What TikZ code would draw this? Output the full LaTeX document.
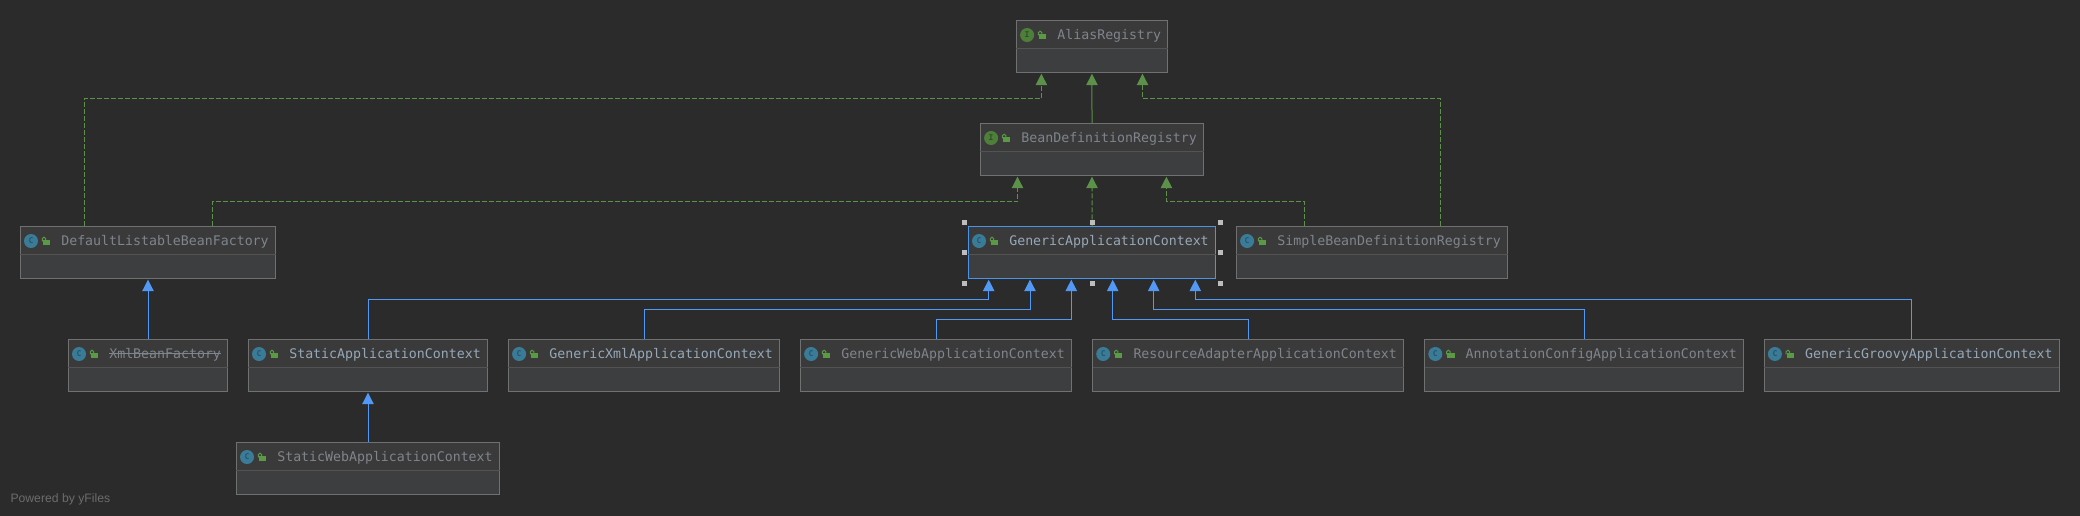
\documentclass[tikz,border=0pt]{standalone}
\usepackage{fontspec}
\setmainfont{Liberation Sans}
\setmonofont{DejaVu Sans Mono}
\usetikzlibrary{arrows.meta}
\definecolor{canvas}{HTML}{2B2B2B}
\definecolor{bodyfill}{HTML}{3C3E40}
\definecolor{headfill}{HTML}{3A3A3B}
\definecolor{edgegray}{HTML}{6F7070}
\definecolor{dividergray}{HTML}{535353}
\definecolor{selblue}{HTML}{4A94E8}
\definecolor{arrowblue}{HTML}{5199F5}
\definecolor{arrowgreen}{HTML}{5B9148}
\definecolor{lockgreen}{HTML}{5A9A44}
\definecolor{classteal}{HTML}{3A7C98}
\definecolor{classdark}{HTML}{28556A}
\definecolor{ifacegreen}{HTML}{4E7F3A}
\definecolor{ifacedark}{HTML}{2F4F24}
\definecolor{dimtext}{HTML}{7F858B}
\definecolor{brighttext}{HTML}{96A8B8}
\definecolor{creamhandle}{HTML}{BDBDBD}
\definecolor{footgray}{HTML}{6C6C6C}
\tikzset{
  x=1pt,y=-1pt,
  classbox/.style={draw=edgegray,line width=1pt,fill=bodyfill,minimum height=52.4pt,inner sep=0pt,outer sep=0pt,anchor=north west},
  selectedbox/.style={classbox,draw=selblue},
  classlabel/.style={anchor=base west,inner sep=0pt,outer sep=0pt,font=\ttfamily\fontsize{13.25}{15}\selectfont},
  iconletter/.style={inner sep=0pt,outer sep=0pt,font=\ttfamily\bfseries\fontsize{8}{8}\selectfont},
  bluetip/.style={-{Triangle[width=11.4pt,length=11.4pt]},arrowblue,line width=1pt},
  greentip/.style={-{Triangle[width=11.4pt,length=11.4pt]},arrowgreen,line width=1pt},
  realizes/.style={greentip,dash pattern=on 5pt off 2pt},
  handlebox/.style={fill=creamhandle,draw=none,minimum size=5pt,inner sep=0pt,outer sep=0pt},
}
% #1 name, #2 x, #3 y, #4 width, #5 text, #6 text colour, #7 box style, #8 circle colour, #9 letter colour; letter follows
\newcommand{\umlbox}[9]{%
  \node[#7,minimum width=#4pt] (#1) at (#2,#3) {};
  \fill[headfill] ([shift={(.5,.5)}]#1.north west) rectangle ([shift={(-.5,28)}]#1.north east);
  \draw[dividergray,line width=.8pt] ([yshift=-28pt]#1.north west) -- ([yshift=-28pt]#1.north east);
  \begin{scope}[shift={(#1.north west)}]
    \fill[#8] (10.7,14.7) circle[radius=7];
    \fill[lockgreen] (22.6,13.7) rectangle (29.9,19);
    \draw[lockgreen,line width=1pt] (22,15) -- (22,12.3) .. controls (22,10.4) and (25.4,10.4) .. (25.4,12.3) -- (25.4,13.7);
  \end{scope}
  \node[classlabel,text=#6] (#1-label) at ([shift={(41,19.2)}]#1.north west) {#5};
  \umlletter{#1}{#9}%
}
\newcommand{\umlletter}[3]{%
  \node[iconletter,text=#2] (#1-icon) at ([shift={(10.7,14.7)}]#1.north west) {#3};
}
\begin{document}
\begin{tikzpicture}
\useasboundingbox (0,0) rectangle (2080,515);
\fill[canvas] (-5,-5) rectangle (2085,520);

\umlbox{alias}{1016.4}{20.3}{151.1}{AliasRegistry}{dimtext}{classbox}{ifacegreen}{ifacedark}{I}
\umlbox{bdr}{980.4}{123.3}{223.2}{BeanDefinitionRegistry}{dimtext}{classbox}{ifacegreen}{ifacedark}{I}
\umlbox{gac}{968.3}{226.3}{247.4}{GenericApplicationContext}{brighttext}{selectedbox}{classteal}{classdark}{C}
\umlbox{sbdr}{1236.4}{226.3}{271.1}{SimpleBeanDefinitionRegistry}{dimtext}{classbox}{classteal}{classdark}{C}
\umlbox{dlbf}{20.3}{226.3}{255.4}{DefaultListableBeanFactory}{dimtext}{classbox}{classteal}{classdark}{C}
\umlbox{xbf}{68.3}{339.3}{159.4}{XmlBeanFactory}{dimtext}{classbox}{classteal}{classdark}{C}
\umlbox{sac}{248.3}{339.3}{239.4}{StaticApplicationContext}{brighttext}{classbox}{classteal}{classdark}{C}
\umlbox{gxac}{508.4}{339.3}{271.4}{GenericXmlApplicationContext}{brighttext}{classbox}{classteal}{classdark}{C}
\umlbox{gwac}{800.4}{339.3}{271.3}{GenericWebApplicationContext}{dimtext}{classbox}{classteal}{classdark}{C}
\umlbox{raac}{1092.5}{339.3}{311.3}{ResourceAdapterApplicationContext}{dimtext}{classbox}{classteal}{classdark}{C}
\umlbox{acac}{1424.6}{339.3}{318.8}{AnnotationConfigApplicationContext}{dimtext}{classbox}{classteal}{classdark}{C}
\umlbox{ggac}{1764.2}{339.3}{295}{GenericGroovyApplicationContext}{brighttext}{classbox}{classteal}{classdark}{C}
\umlbox{swac}{236.3}{442.3}{263.4}{StaticWebApplicationContext}{dimtext}{classbox}{classteal}{classdark}{C}

% strike-through of the deprecated class
\draw[dimtext,line width=.9pt] (xbf-label.west |- 0,353.3) -- (xbf-label.east |- 0,353.3);

% ports
\path (alias.south west) ++(25,1) coordinate (a1);
\path (alias.south) ++(0,1) coordinate (a2);
\path (alias.south west) ++(126.1,1) coordinate (a3);
\path (bdr.south west) ++(37.1,1) coordinate (b1);
\path (bdr.south) ++(0,1) coordinate (b2);
\path (bdr.south west) ++(186,1) coordinate (b3);
\path (gac.south west) ++(20.4,1) coordinate (g1);
\path (gac.south west) ++(61.7,1) coordinate (g2);
\path (gac.south west) ++(103,1) coordinate (g3);
\path (gac.south west) ++(144.4,1) coordinate (g4);
\path (gac.south west) ++(185.4,1) coordinate (g5);
\path (gac.south west) ++(227,1) coordinate (g6);
\path (dlbf.north west) ++(64,0) coordinate (d1);
\path (dlbf.north west) ++(192,0) coordinate (d2);
\path (sbdr.north west) ++(67.9,0) coordinate (s1);
\path (sbdr.north west) ++(204,0) coordinate (s2);

% realisation edges
\draw[realizes] (d1) |- ([yshift=-25pt]a1) -- (a1);
\draw[realizes] (s2) |- ([yshift=-25pt]a3) -- (a3);
\draw[greentip] (bdr.north) -- (a2);
\draw[realizes] (d2) |- ([yshift=-25pt]b1) -- (b1);
\draw[realizes] (gac.north) -- (b2);
\draw[realizes] (s1) |- ([yshift=-25pt]b3) -- (b3);

% extension edges
\draw[bluetip] (sac.north) |- ([yshift=-20pt]g1) -- (g1);
\draw[bluetip] (gxac.north) |- ([yshift=-30pt]g2) -- (g2);
\draw[bluetip] (gwac.north) |- ([yshift=-40pt]g3) -- (g3);
\draw[bluetip] (raac.north) |- ([yshift=-40pt]g4) -- (g4);
\draw[bluetip] (acac.north) |- ([yshift=-30pt]g5) -- (g5);
\draw[bluetip] (ggac.north) |- ([yshift=-20pt]g6) -- (g6);
\path (dlbf.south) ++(0,1) coordinate (f1);
\path (sac.south) ++(0,1) coordinate (f2);
\draw[bluetip] (xbf.north) -- (f1);
\draw[bluetip] (swac.north) -- (f2);

% selection handles
\foreach \hx/\hy/\hn in {964.3/222.3/nw,1092.3/222.3/n,1220.3/222.3/ne,964.3/252.7/w,1220.3/252.7/e,964.3/283.3/sw,1092.3/283.3/s,1220.3/283.3/se}
  \node[handlebox] (handle-\hn) at (\hx,\hy) {};

\node[anchor=base west,inner sep=0pt,text=footgray,font=\rmfamily\fontsize{12.2}{14}\selectfont] (credit) at (10.3,502.5) {Powered by yFiles};
\end{tikzpicture}
\end{document}
